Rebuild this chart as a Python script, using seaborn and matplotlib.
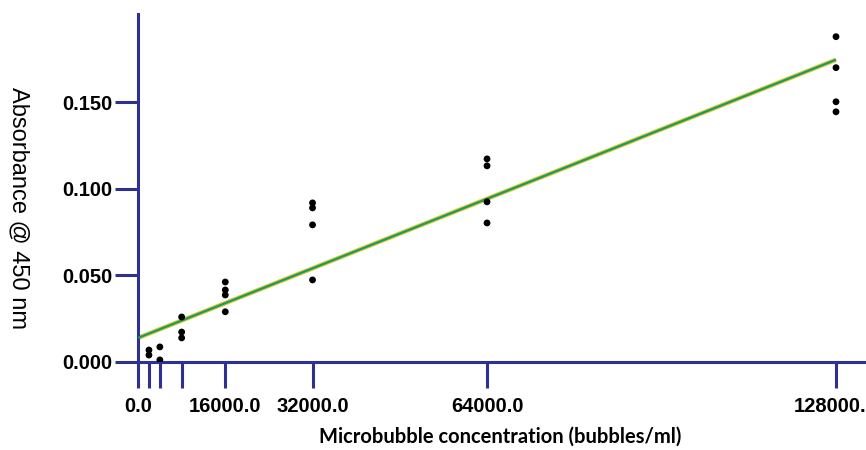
import numpy as np
import pandas as pd
import matplotlib
matplotlib.use("Agg")
import matplotlib.pyplot as plt
import seaborn as sns

# -----------------------------
# Data
# -----------------------------
conc_2k = [2000, 2000]
abs_2k = [0.0069, 0.0040]
conc_4k = [4000, 4000]
abs_4k = [0.0087, 0.0012]
conc_8k = [8000, 8000, 8000]
abs_8k = [0.0260, 0.0173, 0.0139]
conc_16k = [16000, 16000, 16000, 16000]
abs_16k = [0.0462, 0.0416, 0.0387, 0.0290]
conc_32k = [32000, 32000, 32000, 32000]
abs_32k = [0.0919, 0.0890, 0.0792, 0.0474]
conc_64k = [64000, 64000, 64000, 64000]
abs_64k = [0.1173, 0.1133, 0.0925, 0.0803]
conc_128k = [128000, 128000, 128000, 128000]
abs_128k = [0.1879, 0.1700, 0.1503, 0.1445]

# fitted line as drawn in the reference (ends)
fit_conc = [0, 128000]
fit_abs = [0.0139, 0.1746]

x_ticks = [0, 2000, 4000, 8000, 16000, 32000, 64000, 128000]
x_tick_labels = ["0.0", "", "", "", "16000.0", "32000.0", "64000.0", "128000.0"]
y_ticks = [0.0, 0.05, 0.10, 0.15]
y_tick_labels = ["0.000", "0.050", "0.100", "0.150"]

df = pd.DataFrame({
    "conc": conc_2k + conc_4k + conc_8k + conc_16k + conc_32k + conc_64k + conc_128k,
    "absorbance": abs_2k + abs_4k + abs_8k + abs_16k + abs_32k + abs_64k + abs_128k,
})

# -----------------------------
# Plot
# -----------------------------
sns.set_style("white")
plt.rcParams["font.family"] = ["Liberation Sans", "DejaVu Sans"]

axis_color = "#2e3192"

fig = plt.figure(figsize=(8.66, 4.5), dpi=100)
ax = fig.add_axes([0.1594, 0.1956, 0.8406, 0.7733])

ax.plot(fit_conc, fit_abs, color="#d8c83a", lw=3.2, solid_capstyle="butt", zorder=2)
ax.plot(fit_conc, fit_abs, color="#1f9a5a", lw=1.6, solid_capstyle="butt", zorder=3)
sns.scatterplot(data=df, x="conc", y="absorbance", color="black", s=24,
                edgecolor="none", ax=ax, zorder=4)

ax.set_xlim(0, 133500)
ax.set_ylim(0, 0.201)
ax.set_xticks(x_ticks)
ax.set_xticklabels(x_tick_labels, fontsize=14.5, fontweight="bold", color="black")
ax.set_yticks(y_ticks)
ax.set_yticklabels(y_tick_labels, fontsize=14.5, fontweight="bold", color="black")

for side in ["top", "right"]:
    ax.spines[side].set_visible(False)
for side in ["left", "bottom"]:
    ax.spines[side].set_color(axis_color)
    ax.spines[side].set_linewidth(2.2)

ax.tick_params(axis="x", bottom=True, direction="out", length=19, width=2.2,
               color=axis_color, pad=6)
ax.tick_params(axis="y", left=True, direction="out", length=16.5, width=2.2,
               color=axis_color, pad=2)
ax.set_xlabel("")
ax.set_ylabel("")

fig.text(0.021, 0.537, "Absorbance @ 450 nm", rotation=270, fontsize=17,
         color="black", ha="center", va="center")
fig.text(0.578, 0.029, "Microbubble concentration (bubbles/ml)", fontsize=14.5,
         fontweight="bold", color="black", family=["Lato", "DejaVu Sans"],
         ha="center", va="center")

fig.savefig("out.png", dpi=100)
